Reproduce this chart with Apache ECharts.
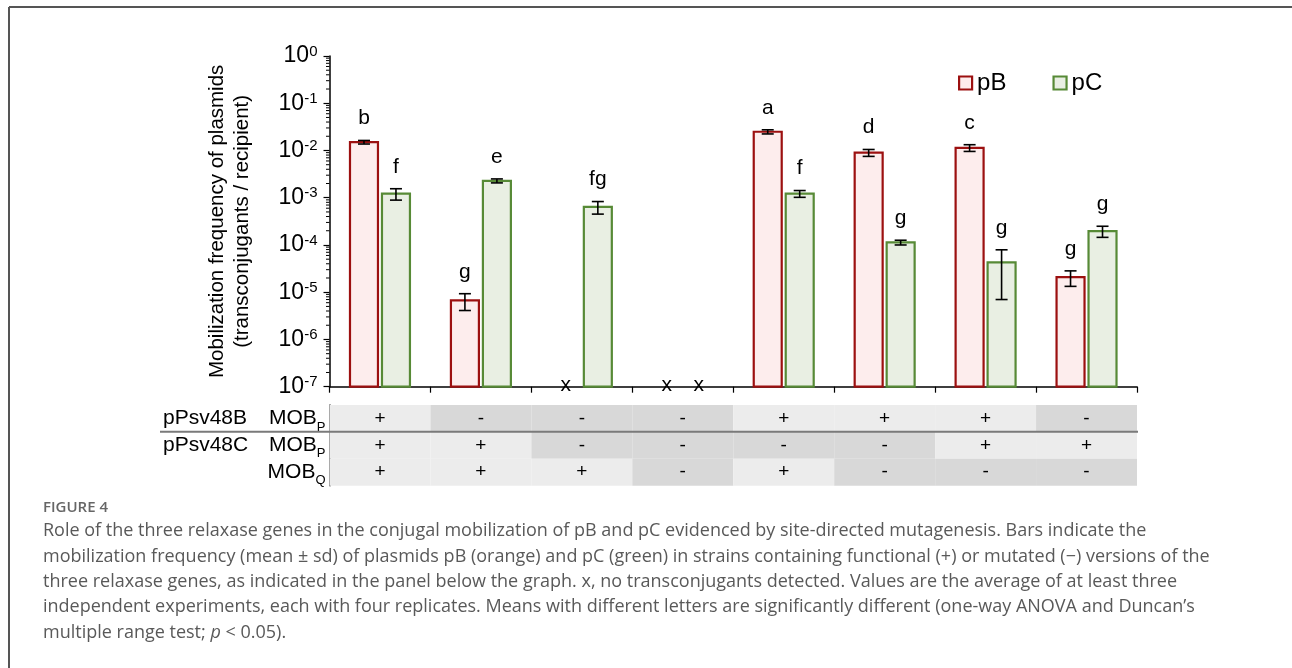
<!DOCTYPE html>
<html><head><meta charset="utf-8">
<script src="https://cdn.jsdelivr.net/npm/echarts@6/dist/echarts.min.js"></script>
<style>html,body{margin:0;padding:0;background:#fff}#c{width:1292px;height:668px}</style>
</head><body><div id="c"></div>
<script>
// ---------- data ----------
const categories = ['S1','S2','S3','S4','S5','S6','S7','S8'];
// mean mobilization frequency (null = no transconjugants detected)
const pBMean = [0.0150, 6.7e-6, null, null, 0.0249, 0.0090, 0.0114, 2.08e-5];
const pBSd   = [0.0013, 2.6e-6, null, null, 0.0025, 0.0015, 0.00185, 0.75e-5];
const pCMean = [1.22e-3, 2.28e-3, 6.4e-4, null, 1.22e-3, 1.13e-4, 4.3e-5, 1.97e-4];
const pCSd   = [0.33e-3, 0.22e-3, 1.9e-4, null, 0.2e-3, 0.13e-4, 3.6e-5, 0.52e-4];
const pBLetters = ['b','g','','','a','d','c','g'];
const pCLetters = ['f','e','fg','','f','g','g','g'];
const notDetectedMark = 'x';
const yMin = 1e-7, yMax = 1;
const yMinorTicks = [];
for (let e = -7; e < 0; e++) for (let m = 2; m <= 9; m++) yMinorTicks.push(m * Math.pow(10, e));
// genotype panel
const rowLabels = ['pPsv48B MOBP', 'pPsv48C MOBP', 'MOBQ'];
const rowB_MOBP = ['+','-','-','-','+','+','+','-'];
const rowC_MOBP = ['+','+','-','-','-','-','+','+'];
const rowC_MOBQ = ['+','+','+','-','+','-','-','-'];
const captionTitle = 'FIGURE 4';
const captionLines = [
 'Role of the three relaxase genes in the conjugal mobilization of pB and pC evidenced by site-directed mutagenesis. Bars indicate the',
 'mobilization frequency (mean \u00b1 sd) of plasmids pB (orange) and pC (green) in strains containing functional (+) or mutated (\u2212) versions of the',
 'three relaxase genes, as indicated in the panel below the graph. x, no transconjugants detected. Values are the average of at least three',
 'independent experiments, each with four replicates. Means with different letters are significantly different (one-way ANOVA and Duncan\u2019s',
 'multiple range test; {i|p} < 0.05).'
];

// ---------- styles ----------
const FONT = 'Liberation Sans';
const pBStyle = {fill: '#fdeded', stroke: '#9c1010'};
const pCStyle = {fill: '#e9efe3', stroke: '#578a36'};
const barOffsetFrac = 16 / 101, barWidthFrac = 30 / 101;

function buildData(mean, sd, letters) {
  return mean.map((v, i) => ({
    value: [i, v == null ? yMin : v, sd[i] == null ? 0 : sd[i], v == null ? 0 : 1],
    letter: v == null ? notDetectedMark : letters[i]
  }));
}
const pBData = buildData(pBMean, pBSd, pBLetters);
const pCData = buildData(pCMean, pCSd, pCLetters);

function makeBarRenderer(data, dir, st) {
  return function (params, api) {
    const i = api.value(0), v = api.value(1), sd = api.value(2), det = api.value(3);
    const p0 = api.coord([i, yMin]);
    const bandW = api.coord([1, yMin])[0] - api.coord([0, yMin])[0];
    const cx = p0[0] + dir * barOffsetFrac * bandW;
    const bw = barWidthFrac * bandW;
    const baseY = p0[1];
    const children = [];
    const letter = data[params.dataIndex].letter;
    if (!det) {
      children.push({type: 'text', style: {text: letter, x: cx, y: baseY - 1, fontSize: 21, fontFamily: FONT, fill: '#000', align: 'center', verticalAlign: 'middle'}});
      return {type: 'group', children};
    }
    const topY = api.coord([i, v])[1];
    children.push({type: 'rect', shape: {x: cx - bw / 2 + 1, y: topY, width: bw - 2, height: baseY - topY},
      style: {fill: st.fill, stroke: st.stroke, lineWidth: 2.2}});
    const up = api.coord([i, v + sd])[1];
    const lo = api.coord([i, Math.max(v - sd, yMin)])[1];
    const es = {stroke: '#000', lineWidth: 1.6};
    children.push({type: 'line', shape: {x1: cx, y1: up, x2: cx, y2: lo}, style: es});
    children.push({type: 'line', shape: {x1: cx - 6, y1: up, x2: cx + 6, y2: up}, style: es});
    children.push({type: 'line', shape: {x1: cx - 6, y1: lo, x2: cx + 6, y2: lo}, style: es});
    children.push({type: 'text', style: {text: letter, x: cx, y: up - 22, fontSize: 21, fontFamily: FONT, fill: '#000', align: 'center', verticalAlign: 'middle'}});
    return {type: 'group', children};
  };
}

const tableRows = [rowB_MOBP, rowC_MOBP, rowC_MOBQ];
const tableData = [];
tableRows.forEach((row, r) => row.forEach((s, c) => tableData.push([c, r, s === '+' ? 1 : 0])));

const chart = echarts.init(document.getElementById('c'), null, {renderer: 'canvas'});
const gridLeft = 329.5, gridRight = 155;
const option = {
  animation: false,
  backgroundColor: '#fff',
  grid: [
    {left: gridLeft, right: gridRight, top: 56, height: 330.7, outerBoundsMode: 'none', containLabel: false},
    {left: gridLeft, right: gridRight, top: 405, height: 80.7, outerBoundsMode: 'none', containLabel: false}
  ],
  legend: {
    left: 958, top: 71, padding: 0, itemWidth: 13, itemHeight: 13, itemGap: 46,
    icon: 'rect',
    textStyle: {fontSize: 24, fontFamily: FONT, color: '#000'},
    data: [
      {name: 'pB', itemStyle: {color: pBStyle.fill, borderColor: pBStyle.stroke, borderWidth: 2.2}},
      {name: 'pC', itemStyle: {color: pCStyle.fill, borderColor: pCStyle.stroke, borderWidth: 2.2}}
    ]
  },
  xAxis: [
    {type: 'category', data: categories, gridIndex: 0,
     axisLine: {lineStyle: {color: '#000', width: 1.5}},
     axisTick: {show: true, length: 6, lineStyle: {color: '#000', width: 1.2}},
     axisLabel: {show: false}},
    {type: 'category', data: categories, gridIndex: 1, show: false}
  ],
  yAxis: [
    {type: 'log', logBase: 10, min: yMin, max: yMax, gridIndex: 0,
     name: 'Mobilization frequency of plasmids\n(transconjugants / recipient)',
     nameLocation: 'middle', nameRotate: 90, nameGap: 75,
     nameTextStyle: {fontSize: 20.5, lineHeight: 25, fontFamily: FONT, color: '#000'},
     axisLine: {show: true, lineStyle: {color: '#000', width: 1.5}},
     axisTick: {show: true, length: 6, lineStyle: {color: '#000', width: 1.2}},
     splitLine: {show: false},
     axisLabel: {margin: 12, color: '#000', fontFamily: FONT,
       formatter: v => '{n|10}{e|' + Math.round(Math.log10(v)) + '}',
       rich: {n: {fontSize: 23, lineHeight: 24, fontFamily: FONT, color: '#000'},
              e: {fontSize: 15, lineHeight: 13, verticalAlign: 'top', fontFamily: FONT, color: '#000'}}}},
    {type: 'category', gridIndex: 1, inverse: true, data: rowLabels,
     axisLine: {show: true, lineStyle: {color: '#333', width: 1.5}},
     axisTick: {show: false},
     axisLabel: {margin: 4, color: '#000', fontFamily: FONT,
       formatter: (v, idx) => idx === 0 ? '{a|pPsv48B}{m|MOB}{s|P}' : idx === 1 ? '{a|pPsv48C}{m|MOB}{s|P}' : '{m|MOB}{s|Q}',
       rich: {a: {fontSize: 21, lineHeight: 30, width: 106, align: 'left', fontFamily: FONT, color: '#000'},
              m: {fontSize: 21, lineHeight: 30, fontFamily: FONT, color: '#000'},
              s: {fontSize: 13, lineHeight: 12, verticalAlign: 'bottom', fontFamily: FONT, color: '#000'}}}}
  ],
  series: [
    {name: 'pB', type: 'custom', xAxisIndex: 0, yAxisIndex: 0, clip: false,
     itemStyle: {color: pBStyle.fill, borderColor: pBStyle.stroke},
     data: pBData, encode: {x: 0, y: 1}, renderItem: makeBarRenderer(pBData, -1, pBStyle)},
    {name: 'pC', type: 'custom', xAxisIndex: 0, yAxisIndex: 0, clip: false,
     itemStyle: {color: pCStyle.fill, borderColor: pCStyle.stroke},
     data: pCData, encode: {x: 0, y: 1}, renderItem: makeBarRenderer(pCData, 1, pCStyle)},
    {name: 'minorTicks', type: 'custom', xAxisIndex: 0, yAxisIndex: 0, clip: false, silent: true,
     data: yMinorTicks.map(v => [0, v]), encode: {x: 0, y: 1},
     renderItem: (params, api) => {
       const p = api.coord([0, api.value(1)]);
       const bandW = api.coord([1, yMin])[0] - api.coord([0, yMin])[0];
       const x = p[0] - bandW / 2;
       return {type: 'line', shape: {x1: x - 3.5, y1: p[1], x2: x, y2: p[1]}, style: {stroke: '#000', lineWidth: 1}};
     }},
    {name: 'panel', type: 'custom', xAxisIndex: 1, yAxisIndex: 1, silent: true,
     data: tableData, encode: {x: 0, y: 1},
     renderItem: (params, api) => {
       const p = api.coord([api.value(0), api.value(1)]);
       const sz = api.size([1, 1]);
       const plus = api.value(2) === 1;
       return {type: 'group', children: [
         {type: 'rect', shape: {x: p[0] - sz[0] / 2, y: p[1] - sz[1] / 2, width: sz[0], height: sz[1]},
          style: {fill: plus ? '#ececec' : '#d8d8d8'}},
         {type: 'text', style: {text: plus ? '+' : '-', x: p[0], y: p[1], fontSize: 19, fontFamily: FONT, fill: '#000', align: 'center', verticalAlign: 'middle'}}
       ]};
     }}
  ],
  graphic: [
    {type: 'line', shape: {x1: 9, y1: 7, x2: 1292, y2: 7}, style: {stroke: '#555', lineWidth: 2}},
    {type: 'line', shape: {x1: 9, y1: 7, x2: 9, y2: 668}, style: {stroke: '#555', lineWidth: 2}},
    {type: 'line', shape: {x1: 160, y1: 431.8, x2: 1138, y2: 431.8}, style: {stroke: '#7a7a7a', lineWidth: 2}, z: 10},
    {type: 'text', x: 43, y: 508, style: {text: captionTitle, fontSize: 15, fontWeight: 600, fontFamily: 'Open Sans', fill: '#666', verticalAlign: 'middle'}}
  ].concat(captionLines.map((t, k) => ({
    type: 'text', x: 43, y: 531 + k * 25.4,
    style: {text: t, fontSize: 18, fontFamily: 'Open Sans', fill: '#595959', verticalAlign: 'middle',
            rich: {i: {fontSize: 18, fontStyle: 'italic', fontFamily: 'Open Sans', fill: '#595959'}}}
  })))
};
chart.setOption(option);
</script></body></html>
